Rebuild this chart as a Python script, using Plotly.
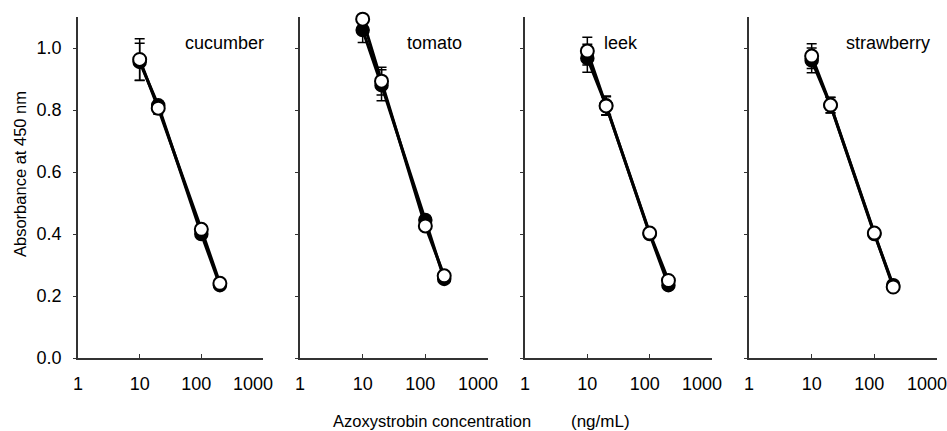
import plotly.graph_objects as go

# ---- data ----
panels = ["cucumber", "tomato", "leek", "strawberry"]
conc = [10, 20, 100, 200]

filled_vals = {
    "cucumber":   [0.955, 0.815, 0.400, 0.235],
    "tomato":     [1.058, 0.880, 0.445, 0.255],
    "leek":       [0.967, 0.815, 0.400, 0.235],
    "strawberry": [0.960, 0.815, 0.400, 0.235],
}
filled_err = {
    "cucumber":   [0.060, 0.015, 0.010, 0.010],
    "tomato":     [0.040, 0.050, 0.015, 0.010],
    "leek":       [0.045, 0.030, 0.010, 0.010],
    "strawberry": [0.040, 0.025, 0.010, 0.010],
}
open_vals = {
    "cucumber":   [0.963, 0.806, 0.415, 0.241],
    "tomato":     [1.093, 0.893, 0.426, 0.265],
    "leek":       [0.990, 0.813, 0.403, 0.250],
    "strawberry": [0.974, 0.816, 0.403, 0.229],
}
open_err = {
    "cucumber":   [0.067, 0.020, 0.010, 0.010],
    "tomato":     [0.010, 0.045, 0.015, 0.010],
    "leek":       [0.045, 0.030, 0.010, 0.010],
    "strawberry": [0.040, 0.025, 0.010, 0.010],
}

x_tickvals = [1, 10, 100, 1000]
# labels are shifted left as a group; leading figure spaces bring the
# narrow ones back over their ticks, as in the original
x_ticktext = ["\u2007\u20071", "\u2007\u200710", "\u2007100", "1000"]
y_tickvals = [0.0, 0.2, 0.4, 0.6, 0.8, 1.0]
y_ticktext = ["0.0", "0.2", "0.4", "0.6", "0.8", "1.0"]

# ---- layout geometry ----
W, H = 947, 431
ML, MR, MT, MB = 78, 10, 17, 73
PW = W - ML - MR
PH = H - MT - MB
panel_px = [(78, 263), (300, 488), (525, 712), (749, 937)]
label_px = [183, 405, 602, 844]

FONT = "Liberation Sans, Arial, sans-serif"

fig = go.Figure()

for i, name in enumerate(panels):
    xa = "x" if i == 0 else f"x{i+1}"
    ya = "y" if i == 0 else f"y{i+1}"
    fig.add_trace(go.Scatter(
        x=conc, y=filled_vals[name], xaxis=xa, yaxis=ya, mode="lines+markers",
        line=dict(color="black", width=3),
        marker=dict(symbol="circle", size=13, color="black",
                    line=dict(color="black", width=1.5)),
        error_y=dict(type="data", array=filled_err[name], color="black",
                     thickness=1.5, width=5),
        showlegend=False, cliponaxis=False))
    fig.add_trace(go.Scatter(
        x=conc, y=open_vals[name], xaxis=xa, yaxis=ya, mode="lines+markers",
        line=dict(color="black", width=3),
        marker=dict(symbol="circle", size=13, color="white",
                    line=dict(color="black", width=2)),
        error_y=dict(type="data", array=open_err[name], color="black",
                     thickness=1.5, width=5),
        showlegend=False, cliponaxis=False))

    d0 = (panel_px[i][0] - ML) / PW
    d1 = (panel_px[i][1] - ML) / PW
    xkey = "xaxis" if i == 0 else f"xaxis{i+1}"
    ykey = "yaxis" if i == 0 else f"yaxis{i+1}"
    fig.layout[xkey] = dict(
        type="log", range=[0, 3], domain=[max(0, d0), min(1, d1)],
        anchor=ya, showline=True, linecolor="#333", linewidth=1.5,
        showgrid=False, zeroline=False, automargin=False,
        ticks="inside", ticklen=4, tickcolor="#333", tickwidth=1,
        tickvals=x_tickvals, ticktext=x_ticktext,
        ticklabelstandoff=9, ticklabelshift=-10, ticklabeloverflow="allow",
        tickfont=dict(family=FONT, size=18, color="black"))
    fig.layout[ykey] = dict(
        range=[0, 1.1], domain=[0, 1], anchor=xa,
        showline=True, linecolor="#333", linewidth=1.5,
        showgrid=False, zeroline=False, automargin=False,
        ticks="outside", ticklen=3, tickcolor="#333", tickwidth=1,
        tickvals=y_tickvals, ticktext=y_ticktext,
        showticklabels=(i == 0), ticklabelstandoff=8,
        tickfont=dict(family=FONT, size=18, color="black"))

    fig.add_annotation(text=name, xref="paper", yref="paper",
                       x=(label_px[i] - ML) / PW, y=(358 - 43) / PH,
                       xanchor="left", yanchor="middle", showarrow=False,
                       font=dict(family=FONT, size=18, color="black"))

fig.add_annotation(text="Absorbance at 450 nm", xref="paper", yref="paper",
                   x=(20 - ML) / PW, y=(358 - 174) / PH, textangle=-90,
                   xanchor="center", yanchor="middle", showarrow=False,
                   font=dict(family=FONT, size=16.5, color="black"))
fig.add_annotation(text="Azoxystrobin concentration", xref="paper", yref="paper",
                   x=(431.5 - ML) / PW, y=(358 - 421) / PH,
                   xanchor="center", yanchor="middle", showarrow=False,
                   font=dict(family=FONT, size=16.5, color="black"))
fig.add_annotation(text="(ng/mL)", xref="paper", yref="paper",
                   x=(600 - ML) / PW, y=(358 - 421) / PH,
                   xanchor="center", yanchor="middle", showarrow=False,
                   font=dict(family=FONT, size=17, color="black"))

fig.update_layout(width=W, height=H,
                  margin=dict(l=ML, r=MR, t=MT, b=MB, pad=0),
                  paper_bgcolor="white", plot_bgcolor="white")

fig.write_html("out.html", config={"displayModeBar": False},
               post_script="document.body.style.margin='0';document.body.style.overflow='hidden';")
